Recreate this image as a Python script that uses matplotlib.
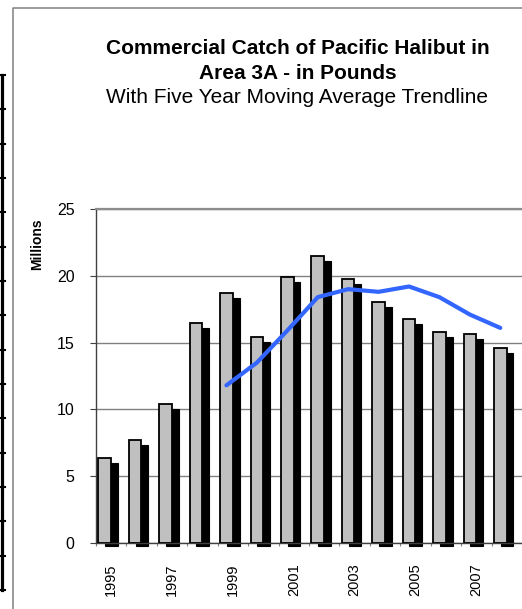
import numpy as np
import matplotlib
matplotlib.use("Agg")
import matplotlib.pyplot as plt
from matplotlib.lines import Line2D

# ---- data (millions of pounds) ----
years = [1995, 1996, 1997, 1998, 1999, 2000, 2001, 2002, 2003, 2004, 2005, 2006, 2007, 2008]
catch_millions = [6.35, 7.7, 10.4, 16.45, 18.75, 15.4, 19.9, 21.5, 19.75, 18.05, 16.75, 15.8, 15.65, 14.6]
avg_years = [1999, 2000, 2001, 2002, 2003, 2004, 2005, 2006, 2007, 2008]
avg_millions = [11.8, 13.5, 15.9, 18.4, 19.0, 18.8, 19.2, 18.4, 17.1, 16.1]
ytick_values = [0, 5, 10, 15, 20, 25]
label_years = years[::2]

plt.rcParams['font.family'] = ['Liberation Sans', 'DejaVu Sans']

W, H = 522, 609
fig = plt.figure(figsize=(W / 100, H / 100), dpi=100)

# plot area in pixels: y axis at x=96, value 0 at y=543, value 25 at y=209
ax = fig.add_axes([96 / W, (H - 543) / H, (W - 96) / W, (543 - 209) / H])

cat_px = 31.4
x = np.arange(len(years))
bar_w = 13 / cat_px
bar_left = x - 0.5 + 2.5 / cat_px
dx = 7 / cat_px            # shadow offset to the right
dy = 5 / (334 / 25)        # shadow offset downwards
below = 3.3 / (334 / 25)   # shadow pokes under the axis

vals = np.array(catch_millions)
# black drop shadow
ax.bar(bar_left + dx, vals - dy + below, width=bar_w, bottom=-below, align='edge',
       color='black', edgecolor='black', linewidth=0.8, zorder=2, clip_on=False)
# gray front bars
ax.bar(bar_left, vals, width=bar_w, align='edge', color='#C0C0C0',
       edgecolor='black', linewidth=1.3, zorder=3)

# five year moving average
avg_idx = np.array([years.index(y) for y in avg_years])
ax.plot(avg_idx - 0.5 + 2.5 / cat_px + bar_w / 2, avg_millions, color='#3366FF', lw=3,
        solid_capstyle='round', solid_joinstyle='round', zorder=5)

ax.set_xlim(-0.5, -0.5 + (W - 96) / cat_px)
ax.set_ylim(0, 25)
ax.set_yticks(ytick_values)
ax.yaxis.grid(True, color='#808080', lw=1.0)
ax.set_axisbelow(True)

ax.set_xticks(np.arange(-0.5, len(years), 1))
ax.set_xticklabels([])
ax.set_xticks(x[::2], minor=True)
ax.set_xticklabels([str(y) for y in label_years], minor=True, rotation=90, fontsize=10.5)
ax.tick_params(axis='x', which='major', length=2.5, width=0.8, color='#808080', direction='out')
ax.tick_params(axis='x', which='minor', length=0, pad=14.5)
ax.tick_params(axis='y', length=4, width=0.8, color='#404040', pad=11.5, labelsize=11.5)

for side in ['right']:
    ax.spines[side].set_visible(False)
ax.spines['top'].set_color('#8c8c8c')
ax.spines['top'].set_linewidth(1.6)
ax.spines['left'].set_color('#404040')
ax.spines['left'].set_linewidth(1.0)
ax.spines['bottom'].set_color('#404040')
ax.spines['bottom'].set_linewidth(1.0)

fig.text(37 / W, 1 - 244 / H, 'Millions', rotation=90, ha='center', va='center',
         fontsize=10, fontweight='bold')

# titles
fig.text(298 / W, 1 - 54.3 / H, 'Commercial Catch of Pacific Halibut in', ha='center',
         va='baseline', fontsize=15, fontweight='bold')
fig.text(298 / W, 1 - 79 / H, 'Area 3A - in Pounds', ha='center', va='baseline',
         fontsize=15, fontweight='bold')
fig.text(297 / W, 1 - 103.3 / H, 'With Five Year Moving Average Trendline', ha='center',
         va='baseline', fontsize=15)

# chart area border (left and top, rest is cut off)
fig.add_artist(Line2D([13 / W, 13 / W, 1], [0, 1 - 7.5 / H, 1 - 7.5 / H],
                      transform=fig.transFigure, color='#808080', lw=1.1))

# edge of the neighbouring table on the left
fig.add_artist(Line2D([1.5 / W, 1.5 / W], [1 - 75 / H, 1 - 590 / H],
                      transform=fig.transFigure, color='black', lw=2.3))
for yy in np.linspace(75, 590, 16):
    fig.add_artist(Line2D([0, 4.5 / W], [1 - yy / H, 1 - yy / H],
                          transform=fig.transFigure, color='black', lw=1.5))

fig.savefig('out.png', dpi=100)
